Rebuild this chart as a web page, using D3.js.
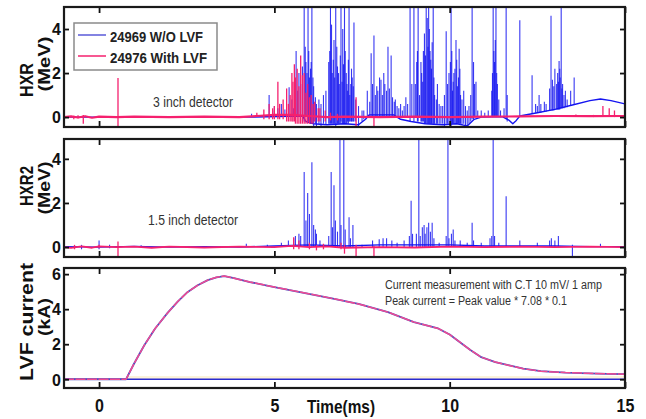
<!DOCTYPE html>
<html><head><meta charset="utf-8">
<script src="https://cdn.jsdelivr.net/npm/d3@7"></script>
<style>body{margin:0;background:#fff}svg{display:block}text{font-family:Arial,"Liberation Sans",sans-serif}</style>
</head><body><svg id="c" width="646" height="419"></svg>
<script>
// ---------- data (time in ms) ----------
const xTicks = [0, 5, 10, 15];
const hxrTicks = [0, 2, 4];
const lvfTicks = [0, 2, 4, 6];
const seriesNames = ["24969 W/O LVF", "24976 With LVF"];

// HXR (3 inch) — shot 24969: baseline trace [t, MeV] and spikes [t, low, high]
const hxrBlueBase = [[-1,0],[4.3,0],[5.8,0.05],[5.9,-0.2],[6.1,-0.3],[6.5,-0.35],[7.0,-0.3],[7.4,-0.35],[7.6,-0.1],[7.7,0.1],[8.4,0.1],[8.6,-0.1],[8.9,-0.2],[9.3,-0.3],[9.8,-0.35],[10.2,-0.3],[10.5,-0.4],[10.7,-0.1],[10.9,0],[11.5,0.02],[11.7,-0.15],[11.8,-0.3],[11.9,-0.15],[12.0,0.05],[12.5,0.2],[13.0,0.35],[13.5,0.55],[14.0,0.75],[14.3,0.82],[14.6,0.75],[15,0.6]];
const hxrBlueSpikes = [[4.35,0,0.15],[4.6,0,0.1],[4.85,0,1.0],[4.95,0,0.3],[5.0,0,0.5],[5.1,0,0.4],[5.2,0,0.6],[5.3,0,0.35],[5.42,0,1.36],[5.5,0,0.8],[5.55,0,0.4],[5.62,0,3.0],[5.66,0,1.2],[5.7,0,2.0],[5.75,0,1.5],[5.8,0,2.3],[5.85,-0.2,6],[5.88,0,3.2],[5.9,0,2.5],[5.93,0,2.0],[5.96,-0.2,6],[5.98,-0.2,3.0],[6.0,0,1.8],[6.03,-0.3,2.2],[6.05,-0.3,2.5],[6.07,-0.3,6],[6.1,-0.3,1.8],[6.12,-0.4,1.4],[6.17,-0.3,0.9],[6.2,-0.4,0.6],[6.27,-0.3,0.8],[6.33,-0.4,0.6],[6.4,-0.3,1.0],[6.47,-0.35,1.2],[6.55,-0.3,2.5],[6.58,-0.3,3.0],[6.6,-0.3,6],[6.63,-0.3,4.2],[6.65,-0.3,2.0],[6.68,-0.3,2.6],[6.7,-0.3,3.5],[6.72,-0.3,1.8],[6.75,-0.4,6],[6.78,-0.3,3.2],[6.8,-0.3,2.3],[6.83,-0.3,2.0],[6.85,-0.3,1.5],[6.88,-0.3,2.8],[6.9,-0.2,6],[6.93,-0.3,1.6],[6.95,-0.3,4.0],[6.97,-0.3,2.4],[7.0,-0.3,6],[7.02,-0.3,3.0],[7.05,-0.3,2.0],[7.07,-0.3,1.5],[7.09,-0.2,1.2],[7.11,-0.3,2.6],[7.13,-0.2,6],[7.15,-0.2,1.0],[7.18,-0.2,1.5],[7.2,-0.2,2.2],[7.22,-0.2,1.8],[7.25,-0.2,1.4],[7.27,-0.2,4.3],[7.32,-0.2,0.8],[7.4,-0.4,0.5],[7.5,-0.2,0.3],[7.55,-0.1,0.3],[7.65,0,1.2],[7.72,0,0.7],[7.76,0,2.9],[7.8,0,1.5],[7.84,0,3.7],[7.88,0,1.0],[7.92,0,1.4],[7.95,0,1.2],[8.0,0,1.8],[8.04,0,1.7],[8.08,0,1.0],[8.12,0,2.0],[8.15,0,1.5],[8.2,0,1.2],[8.24,0,3.2],[8.28,0,1.3],[8.33,0,2.8],[8.37,0,0.9],[8.42,0,0.7],[8.45,0,0.8],[8.5,0,0.5],[8.55,0,0.4],[8.6,0,0.6],[8.65,0,0.3],[8.7,0,0.5],[8.75,0,0.9],[8.8,0,0.6],[8.87,-0.2,6],[8.92,0,1.5],[8.98,-0.2,6],[9.02,0,1.5],[9.06,0,2.5],[9.08,-0.2,3.0],[9.1,-0.2,6],[9.14,0,1.0],[9.18,-0.2,2.5],[9.2,-0.2,2.0],[9.23,-0.2,1.6],[9.25,-0.2,3.0],[9.28,-0.3,3.8],[9.31,-0.3,2.8],[9.33,-0.3,6],[9.36,-0.3,4.5],[9.38,-0.3,3.2],[9.4,-0.3,6],[9.42,-0.3,4.0],[9.44,-0.3,3.0],[9.46,-0.3,2.6],[9.48,-0.3,2.2],[9.5,-0.3,3.4],[9.53,-0.3,6],[9.55,-0.3,1.8],[9.57,-0.3,1.0],[9.62,-0.3,0.8],[9.65,-0.3,1.5],[9.7,-0.3,0.6],[9.75,-0.3,0.5],[9.8,-0.3,0.5],[9.85,-0.4,1.0],[9.9,-0.3,3.9],[9.94,-0.3,1.5],[9.98,-0.3,2.0],[10.02,-0.3,2.5],[10.04,-0.4,6],[10.06,-0.3,3.0],[10.08,-0.3,1.2],[10.1,-0.3,1.6],[10.12,-0.3,2.0],[10.15,-0.3,2.2],[10.18,-0.3,3.5],[10.2,-0.3,2.6],[10.22,-0.3,1.4],[10.25,-0.3,1.8],[10.27,-0.3,3.1],[10.29,-0.3,2.2],[10.31,-0.3,1.0],[10.35,-0.35,0.8],[10.4,-0.3,1.2],[10.45,-0.4,0.5],[10.5,-0.4,0.3],[10.55,-0.3,0.5],[10.6,-0.2,1.0],[10.64,-0.1,6],[10.68,-0.1,2.5],[10.71,0,1.5],[10.75,0,1.6],[10.8,0,0.3],[10.9,0,0.3],[11.0,0,0.2],[11.1,0,0.3],[11.2,0,1.2],[11.22,0,2.0],[11.24,0,6],[11.26,0,3.0],[11.28,0,2.5],[11.3,0,3.5],[11.32,0,6],[11.34,0,2.0],[11.36,0,1.5],[11.4,0,0.8],[11.45,0,0.3],[11.55,0,0.4],[11.61,-0.1,6],[11.64,-0.2,1.0],[12.0,0.05,4.4],[12.35,0.15,1.9],[12.45,0.2,0.6],[12.5,0.2,0.5],[12.55,0.2,1.0],[12.6,0.2,0.6],[12.7,0.25,0.7],[12.75,0.25,0.6],[12.85,0.3,1.3],[12.89,0.3,4.6],[12.93,0.3,1.7],[12.97,0.3,1.4],[13.0,0.35,2.2],[13.05,0.35,1.5],[13.08,0.35,2.0],[13.1,0.35,1.6],[13.12,0.35,2.55],[13.14,0.35,2.2],[13.15,0.4,1.8],[13.18,0.4,6],[13.2,0.4,1.3],[13.22,0.4,1.5],[13.26,0.4,1.0],[13.3,0.45,1.2],[13.35,0.45,0.8],[13.45,0.5,1.2],[13.55,0.55,1.8]];

// HXR (3 inch) — shot 24976
const hxrPinkBase = [[-1,0],[-0.8,0.03],[-0.6,-0.02],[-0.4,0.04],[-0.2,-0.03],[0,0.02],[0.5,0],[1,0.02],[2,0],[3,0.02],[4,0],[4.5,0.05],[5,0.1],[5.5,0.1],[6,0.05],[6.5,0],[7,0.02],[8,0],[9,0.02],[10,0],[11,0.02],[12,0.03],[13,0.05],[14,0.04],[15,0.05]];
const hxrPinkSpikes = [[-0.72,-0.1,0.06],[-0.6,-0.05,0.08],[-0.45,-0.3,0.1],[0.54,-0.4,1.77],[4.5,0,0.2],[4.7,-0.1,0.35],[4.85,-0.1,0.6],[4.95,-0.1,0.4],[5.0,-0.1,0.5],[5.1,-0.1,1.6],[5.15,-0.1,0.6],[5.25,-0.1,0.8],[5.35,-0.2,1.3],[5.4,-0.2,0.6],[5.45,-0.2,1.0],[5.5,-0.2,2.0],[5.53,-0.2,1.6],[5.57,-0.2,2.4],[5.6,-0.3,1.8],[5.65,-0.3,2.2],[5.7,-0.3,1.4],[5.75,-0.3,2.8],[5.8,-0.3,1.9],[5.85,-0.3,2.0],[5.9,-0.3,1.1],[5.95,-0.3,1.5],[6.0,-0.3,0.9],[6.05,-0.3,1.0],[6.1,-0.3,0.6],[6.15,-0.2,0.7],[6.25,-0.2,0.4],[6.3,-0.2,0.4],[6.45,-0.2,0.3],[6.6,-0.15,0.2],[6.8,-0.15,0.15],[7.33,-0.4,0.9],[7.84,-0.45,0.05],[13.6,0,0.12],[14.1,0,0.1],[14.37,0,0.5],[14.55,0,0.4],[14.7,0,0.3]];

// HXR2 (1.5 inch) — shot 24969
const hxr2BlueBase = [[-1,0.02],[0,0],[1,0.03],[2,0],[3,0.02],[4,0],[5,0.05],[6,0.1],[7,0.05],[8,0.1],[9,0.1],[10,0.1],[11,0.05],[12,0.05],[13,0.05],[14,0.02],[15,0.02]];
const hxr2BlueSpikes = [[-0.5,-0.1,0.1],[0.0,-0.1,0.3],[0.3,-0.05,0.1],[1.2,0,0.08],[4.2,0,0.15],[4.8,0,0.1],[5.2,0,0.2],[5.4,0,0.3],[5.55,0,0.4],[5.6,0,0.5],[5.7,0,0.6],[5.75,0,0.5],[5.85,0,3.4],[5.9,0,1.2],[5.95,0,2.45],[6.0,0,1.5],[6.07,0,3.85],[6.12,0,1.0],[6.17,0,0.8],[6.2,0,0.6],[6.3,0,0.3],[6.55,0,0.5],[6.62,0,3.4],[6.66,0,0.9],[6.7,0,2.8],[6.74,0,1.2],[6.8,0,0.7],[6.87,0,6],[6.9,0,1.0],[6.98,0,6],[7.02,0,0.8],[7.13,0,1.35],[7.17,0,0.4],[7.24,0,1.0],[7.5,0,0.1],[7.8,0,0.3],[7.99,0,0.35],[8.1,0,0.4],[8.2,0,0.4],[8.35,0,0.3],[8.5,0,0.2],[8.7,0,0.3],[8.85,0,0.5],[8.9,0,2.1],[8.94,0,0.6],[9.05,0,0.6],[9.12,0,6],[9.16,0,0.5],[9.22,0,0.9],[9.27,0,1.0],[9.3,0,0.6],[9.35,0,0.9],[9.4,0,1.1],[9.45,0,0.7],[9.5,0,1.1],[9.55,0,0.4],[9.7,0,0.2],[9.9,0,0.5],[9.95,0,6],[9.98,0,0.4],[10.05,0,0.6],[10.1,0,0.8],[10.15,0,0.3],[10.3,0,0.3],[10.5,0,0.2],[10.64,0,1.1],[10.68,0,0.3],[10.9,0,0.2],[11.15,0,0.4],[11.2,0,0.5],[11.24,0,6],[11.28,0,0.5],[11.4,0,0.2],[11.61,0,2.3],[12.0,0,0.3],[12.5,0,0.2],[12.85,0,0.3],[12.9,0,0.4],[13.0,0,0.3],[13.1,0,0.5],[13.5,-0.4,0.1],[14.3,0,0.15]];

// HXR2 (1.5 inch) — shot 24976
const hxr2PinkBase = [[-1,0],[-0.8,-0.04],[-0.5,0.03],[-0.2,-0.03],[0,0.03],[0.5,0],[1,0.02],[1.5,-0.03],[2,0.02],[3,-0.02],[4,0.02],[5,0],[5.5,0.05],[6,0],[6.5,0.03],[7,-0.03],[8,0],[9,-0.02],[10,0.02],[11,0],[12,0.02],[13,0],[14,0.02],[15,0]];
const hxr2PinkSpikes = [[-0.7,-0.1,0.1],[0.0,-0.05,0.1],[0.54,-0.5,0.25],[5.55,-0.1,0.45],[5.7,-0.1,0.3],[6.0,-0.1,0.2],[6.2,-0.15,0.1],[6.4,-0.1,0.15],[6.9,-0.1,0.2],[7.0,-0.3,0.1],[7.33,-0.5,0.1],[7.84,-0.5,0.05]];

// LVF current (kA)
const lvfTime = [-1, 0.77, 1.0, 1.29, 1.6, 1.96, 2.25, 2.52, 2.8, 3.1, 3.35, 3.57, 3.85, 4.3, 5.0, 5.8, 6.6, 7.4, 8.24, 8.98, 9.67, 10.0, 10.33, 10.6, 10.9, 11.3, 11.67, 12.1, 12.6, 13.3, 13.95, 14.5, 15];
const lvfCurrent = [0, 0, 0.9, 1.94, 2.9, 3.8, 4.45, 4.97, 5.35, 5.66, 5.82, 5.89, 5.77, 5.55, 5.26, 4.95, 4.63, 4.3, 3.83, 3.26, 2.9, 2.55, 2.06, 1.65, 1.26, 0.98, 0.8, 0.6, 0.46, 0.38, 0.34, 0.31, 0.29];
const lvfBase = [[-1,0],[15,0]];
const lvfFaint = [[0.8,0.1],[15,0.1]];

// ---------- layout ----------
const svg = d3.select("#c");
const X0 = 64, X1 = 625;
const x = d3.scaleLinear().domain([-1, 15]).range([X0, X1]);
const BLUE = "#1414f0", PINK = "#f5206e";

const panels = [
  {id:"p1", top:7, bot:127, dom:[-0.45,5], ticks:hxrTicks, t1:"HXR", t2:"(MeV)"},
  {id:"p2", top:139, bot:257, dom:[-0.45,4.9], ticks:hxrTicks, t1:"HXR2", t2:"(MeV)"},
  {id:"p3", top:268, bot:388, dom:[-0.5,6.35], ticks:lvfTicks, t1:"LVF current", t2:"(kA)"}
];
panels.forEach(p => p.y = d3.scaleLinear().domain(p.dom).range([p.bot, p.top]));

const defs = svg.append("defs");
panels.forEach(p => defs.append("clipPath").attr("id", "clip-"+p.id)
  .append("rect").attr("x", X0).attr("y", p.top).attr("width", X1-X0).attr("height", p.bot-p.top));

function drawLine(p, data, color, w, dash, op) {
  const line = d3.line().x(d => x(d[0])).y(d => p.y(d[1]));
  const path = svg.append("path").datum(data).attr("clip-path", "url(#clip-"+p.id+")")
    .attr("fill", "none").attr("stroke", color).attr("stroke-width", w)
    .attr("stroke-linejoin", "round").attr("d", line);
  if (dash) path.attr("stroke-dasharray", dash);
  if (op) path.attr("stroke-opacity", op);
}
function drawSpikes(p, data, color, w, op) {
  svg.append("g").attr("clip-path", "url(#clip-"+p.id+")")
    .selectAll("line").data(data).join("line")
    .attr("x1", d => x(d[0])).attr("x2", d => x(d[0]))
    .attr("y1", d => p.y(d[1])).attr("y2", d => p.y(d[2]))
    .attr("stroke", color).attr("stroke-width", w).attr("stroke-opacity", op || 1);
}

// data marks
drawLine(panels[0], hxrBlueBase, BLUE, 1.4);
drawSpikes(panels[0], hxrBlueSpikes, BLUE, 1.1, 0.85);
drawLine(panels[0], hxrPinkBase, PINK, 2.2);
drawSpikes(panels[0], hxrPinkSpikes, PINK, 1.3);
drawLine(panels[1], hxr2BlueBase, BLUE, 1.4);
drawSpikes(panels[1], hxr2BlueSpikes, BLUE, 1.1, 0.85);
drawLine(panels[1], hxr2PinkBase, PINK, 1.8);
drawSpikes(panels[1], hxr2PinkSpikes, PINK, 1.3);
const lvf = lvfTime.map((t,i) => [t, lvfCurrent[i]]);
drawLine(panels[2], lvfFaint, "#fbf2da", 3);
drawLine(panels[2], lvfBase, "#2a2ad0", 1.6);
drawLine(panels[2], lvf, "#5050c0", 1.8);
drawLine(panels[2], lvf, "#f04a92", 1.5, "10,1.5");

// frames, ticks, labels
panels.forEach((p) => {
  const g = svg.append("g");
  g.append("g").attr("transform", `translate(0,${p.bot})`)
    .call(d3.axisBottom(x).tickValues(xTicks).tickSizeInner(-6).tickSizeOuter(0).tickFormat(""))
    .call(s => s.select(".domain").remove());
  g.append("g").attr("transform", `translate(0,${p.top})`)
    .call(d3.axisTop(x).tickValues(xTicks).tickSizeInner(-6).tickSizeOuter(0).tickFormat(""))
    .call(s => s.select(".domain").remove());
  const yl = g.append("g").attr("transform", `translate(${X0},0)`)
    .call(d3.axisLeft(p.y).tickValues(p.ticks).tickSizeInner(-5).tickSizeOuter(0).tickFormat(d3.format("d")));
  yl.select(".domain").remove();
  yl.selectAll("text").attr("font-size", 16).attr("font-weight", "bold").attr("fill", "#111")
    .attr("x", -3).attr("dy", "0.36em");
  g.append("g").attr("transform", `translate(${X1},0)`)
    .call(d3.axisRight(p.y).tickValues(p.ticks).tickSizeInner(-5).tickSizeOuter(0).tickFormat(""))
    .call(s => s.select(".domain").remove());
  g.selectAll(".tick line").attr("stroke", "#111").attr("stroke-width", 1.8);
  g.append("rect").attr("x", X0).attr("y", p.top).attr("width", X1-X0).attr("height", p.bot-p.top)
    .attr("fill", "none").attr("stroke", "#1a1a1a").attr("stroke-width", 2.2);
});

// x tick labels under bottom panel
const p3 = panels[2];
svg.append("g").attr("transform", `translate(0,${p3.bot})`)
  .call(d3.axisBottom(x).tickValues(xTicks).tickSize(0).tickFormat(d3.format("d")))
  .call(s => s.select(".domain").remove())
  .selectAll("text").attr("font-size", 16).attr("font-weight", "bold").attr("fill", "#111")
  .attr("transform", "scale(1,1.15)").attr("y", 0).attr("dy", "1.3em");

// axis titles
const titlePos = [
  {c1:[27,80], l1:34, c2:[44,64], l2:55},
  {c1:[27,186], l1:40, c2:[44,188], l2:53},
  {c1:[27,322], l1:118, c2:[44,317], l2:38}
];
panels.forEach((p, i) => {
  const tp = titlePos[i];
  svg.append("text").attr("transform", `translate(${tp.c1[0]+6},${tp.c1[1]}) rotate(-90)`)
    .attr("text-anchor", "middle").attr("font-size", 19).attr("font-weight", "bold").attr("fill", "#111")
    .attr("textLength", tp.l1).attr("lengthAdjust", "spacingAndGlyphs").text(p.t1);
  svg.append("text").attr("transform", `translate(${tp.c2[0]+6},${tp.c2[1]}) rotate(-90)`)
    .attr("text-anchor", "middle").attr("font-size", 17).attr("font-weight", "bold").attr("fill", "#111")
    .attr("textLength", tp.l2).attr("lengthAdjust", "spacingAndGlyphs").text(p.t2);
});

svg.append("text").attr("x", 307).attr("y", 413).attr("font-size", 19).attr("font-weight", "bold")
  .attr("fill", "#111").attr("textLength", 68).attr("lengthAdjust", "spacingAndGlyphs").text("Time(ms)");

// legend
const lg = svg.append("g");
lg.append("rect").attr("x", 74).attr("y", 23).attr("width", 143).attr("height", 47)
  .attr("fill", "#fff").attr("stroke", "#8a8a8a").attr("stroke-width", 1.5);
[["#5a5ad8", 35, 42, 93], [PINK, 56, 63, 97]].forEach((r, i) => {
  lg.append("line").attr("x1", 78).attr("x2", 106).attr("y1", r[1]).attr("y2", r[1])
    .attr("stroke", r[0]).attr("stroke-width", 1.5);
  lg.append("text").attr("x", 110).attr("y", r[2]).attr("font-size", 14).attr("font-weight", "bold")
    .attr("fill", "#222").attr("textLength", r[3]).attr("lengthAdjust", "spacingAndGlyphs").text(seriesNames[i]);
});

// annotations
function note(tx, x0, yb, len, fs) {
  svg.append("text").attr("x", x0).attr("y", yb).attr("font-size", fs).attr("fill", "#333")
    .attr("textLength", len).attr("lengthAdjust", "spacingAndGlyphs").text(tx);
}
note("3 inch detector", 153, 107, 80, 15);
note("1.5 inch detector", 148, 225, 90, 14);
note("Current measurement with C.T 10 mV/ 1 amp", 385, 289, 217, 12.5);
note("Peak current = Peak value * 7.08 * 0.1", 385, 305, 182, 12.5);
</script></body></html>
